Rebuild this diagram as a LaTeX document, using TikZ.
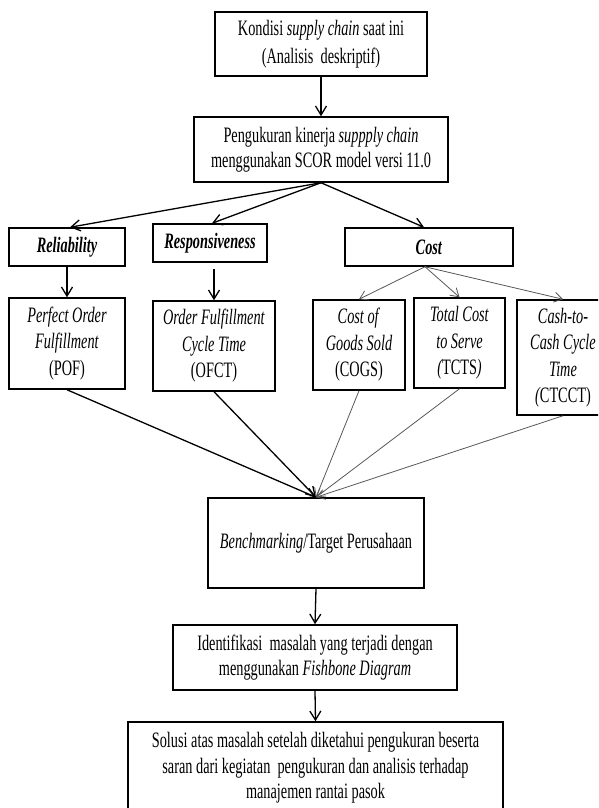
\documentclass[tikz,border=0pt]{standalone}
\usepackage{fontspec}
\setmainfont{Liberation Serif}[FakeStretch=0.65]
\usetikzlibrary{arrows.meta}

\tikzset{
  box/.style={draw, line width=1.5pt, inner sep=0pt, align=center,
    font=\fontsize{22}{26.5}\selectfont},
  mainarrow/.style={-{Straight Barb[length=9pt,width=11pt]}, line width=1.3pt},
  thinarrow/.style={-{Straight Barb[length=8pt,width=10pt]}, line width=0.8pt, draw=black!65},
}

\begin{document}
\begin{tikzpicture}[x=1pt, y=-1pt]
\useasboundingbox (0,0) rectangle (598,808);
\clip (0,0) rectangle (598,808);
\fill[white] (0,0) rectangle (598,808);

% stage boxes
\node[box, minimum width=212, minimum height=64] (kondisi) at (321,44)
  {Kondisi \textit{supply chain} saat ini\\[1pt](Analisis \ deskriptif)};
\node[box, minimum width=254, minimum height=65] (ukur) at (321,149.5)
  {Pengukuran kinerja \textit{suppply chain}\\[-1pt]menggunakan SCOR model versi 11.0};

% SCOR attributes
\node[box, minimum width=116, minimum height=38] (rel) at (67,247)
  {\textbf{\textit{Reliability}}};
\node[box, minimum width=114, minimum height=38] (resp) at (210,243)
  {\textbf{\textit{Responsiveness}}};
\node[box, minimum width=168, minimum height=38] (cost) at (429,247)
  {\textbf{\textit{Cost}}};

% metrics
\node[box, minimum width=116, minimum height=91] (pof) at (67,343.5)
  {\textit{Perfect Order}\\\textit{Fulfillment}\\(POF)};
\node[box, minimum width=122, minimum height=90] (ofct) at (214,346)
  {\textit{Order Fulfillment}\\\textit{Cycle Time}\\(OFCT)};
\node[box, minimum width=92, minimum height=90] (cogs) at (359,345)
  {\textit{Cost of}\\\textit{Goods Sold}\\(COGS)};
\node[box, minimum width=91, minimum height=90] (tcts) at (459.5,343)
  {\textit{Total Cost}\\\textit{to Serve}\\{\itshape(}TCTS{\itshape)}};
\node[box, minimum width=92, minimum height=115] (ctcct) at (563,357.5)
  {\textit{Cash-to-}\\\textit{Cash Cycle}\\\textit{Time}\\{\itshape(}CTCCT)};

% evaluation and follow-up
\node[box, minimum width=216, minimum height=90] (bench) at (316,543)
  {\textit{Benchmarking}/Target Perusahaan};
\node[box, minimum width=284, minimum height=65] (ident) at (315,657.5)
  {Identifikasi \ masalah yang terjadi dengan\\[-2pt]menggunakan \textit{Fishbone Diagram}};
\node[box, minimum width=375, minimum height=92] (sol) at (315.5,768)
  {Solusi atas masalah setelah diketahui pengukuran beserta\\[-1pt]saran dari kegiatan \ pengukuran dan analisis terhadap\\[-1pt]manajemen rantai pasok};

% connectors
\draw[mainarrow] (kondisi.south) -- (ukur.north);
\draw[mainarrow] (ukur.south) -- ([xshift=3pt]rel.north);
\draw[mainarrow] (ukur.south) -- ([xshift=2pt]resp.north);
\draw[mainarrow] (ukur.south) -- ([xshift=-5pt]cost.north);
\draw[mainarrow] (rel.south) -- (pof.north);
\draw[mainarrow, shorten <=6pt] ([xshift=4pt]resp.south) -- (ofct.north);
\draw[thinarrow] ([xshift=-4pt]cost.south) -- (cogs.north);
\draw[thinarrow] ([xshift=-4pt]cost.south) -- (tcts.north);
\draw[thinarrow] ([xshift=-4pt]cost.south) -- (ctcct.north);

\draw[mainarrow] (pof.south) -- (bench.north);
\draw[mainarrow] (ofct.south) -- (bench.north);
\draw[thinarrow] (cogs.south) -- (bench.north);
\draw[thinarrow] (tcts.south) -- (bench.north);
\draw[thinarrow] (ctcct.south) -- (bench.north);

\draw[mainarrow] (bench.south) -- (ident.north);
\draw[mainarrow] (ident.south) -- (sol.north);
\end{tikzpicture}
\end{document}
